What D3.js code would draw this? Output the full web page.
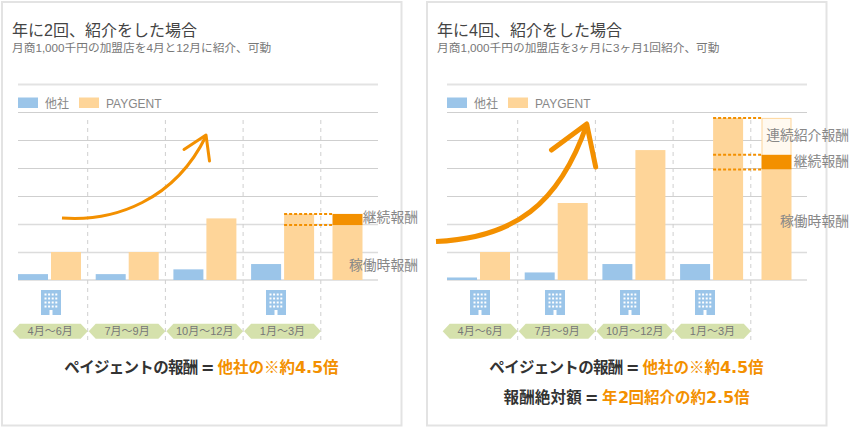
<!DOCTYPE html>
<html lang="ja">
<head>
<meta charset="utf-8">
<script src="https://cdn.jsdelivr.net/npm/d3@7/dist/d3.min.js"></script>
<style>
@font-face{font-family:"NoteNum";src:local("DejaVu Sans Bold");font-weight:700;unicode-range:U+2E,U+30-39,U+3D}
html,body{margin:0;padding:0;background:#fff}
svg{display:block}
text{font-family:"Liberation Sans","Noto Sans CJK JP",sans-serif}
text.note{font-family:"NoteNum","Noto Sans CJK JP",sans-serif}
</style>
</head>
<body>
<svg id="c" width="849" height="427"></svg>
<script>
const quarters = ["4月～6月", "7月～9月", "10月～12月", "1月～3月"];
const seriesNames = ["他社", "PAYGENT"];

const titleA = "年に2回、紹介をした場合";
const subtitleA = "月商1,000千円の加盟店を4月と12月に紹介、可動";
const otherA = [0.21, 0.21, 0.38, 0.57];
const paygentA = [1, 1, 2.2, 2.36];
const totalBaseA = 1.96;
const totalKeepA = 0.4;
const totalNewA = 0;
const buildingsA = ["4月～6月", "1月～3月"];
const notesA = [["ペイジェントの報酬", " = ", "他社の※約4.5倍"]];

const titleB = "年に4回、紹介をした場合";
const subtitleB = "月商1,000千円の加盟店を3ヶ月に3ヶ月1回紹介、可動";
const otherB = [0.09, 0.27, 0.57, 0.57];
const paygentB = [1, 2.75, 4.64, 5.79];
const totalBaseB = 3.95;
const totalKeepB = 0.52;
const totalNewB = 1.32;
const buildingsB = quarters;
const notesB = [["ペイジェントの報酬", " = ", "他社の※約4.5倍"], ["報酬絶対額", " = ", "年2回紹介の約2.5倍"]];

const BLUE = "#9bc5e9", PEACH = "#fed599", ORANGE = "#f39000", GREEN = "#d5e1ac";
const svg = d3.select("#c");

function panel(o) {
  const g = svg.append("g").attr("transform", `translate(${o.dx},0)`);
  g.append("rect").attr("x", 2 + o.shift).attr("y", 2).attr("width", 399.5).attr("height", 423.5)
    .attr("fill", "#fff").attr("stroke", "#e3e3e3").attr("stroke-width", 2);

  const y = d3.scaleLinear().domain([0, 7]).range([280, 84]);
  const band = d3.scaleBand().domain([...quarters, "total"]).range([10, 398.5]);
  const bw = 30;

  g.append("text").attr("x", 12 + o.shift).attr("y", 36).attr("font-size", 16).attr("fill", "#444").text(o.title);
  g.append("text").attr("x", 12 + o.shift).attr("y", 52).attr("font-size", 11.7).attr("fill", "#777").text(o.subtitle);

  // grid
  g.selectAll(".grid").data(d3.range(0, 8)).join("line")
    .attr("x1", 18).attr("x2", 378)
    .attr("y1", d => y(d) + (d === 0 ? 0 : 0.5)).attr("y2", d => y(d) + (d === 0 ? 0 : 0.5))
    .attr("stroke", d => (d === 7 || d === 0) ? "#e3e3e3" : d < 3 ? "#dcdcdc" : "#cfcfcf")
    .attr("stroke-width", d => (d === 7 || d === 0) ? 2 : d < 3 ? 1.4 : 1);

  // legend
  const lg = [[18, 45], [79, 106]];
  seriesNames.forEach((n, i) => {
    g.append("rect").attr("x", lg[i][0]).attr("y", 97.5).attr("width", 20).attr("height", 10.5)
      .attr("fill", i ? PEACH : BLUE);
    g.append("text").attr("x", lg[i][1]).attr("y", 107.5).attr("font-size", 12).attr("fill", "#888").text(n);
  });

  // vertical dashed separators
  g.selectAll(".sep").data(quarters).join("line")
    .attr("x1", d => band(d) + band.step() + o.sep).attr("x2", d => band(d) + band.step() + o.sep)
    .attr("y1", 120).attr("y2", 340)
    .attr("stroke", "#cfcfcf").attr("stroke-width", 1).attr("stroke-dasharray", "4 4");

  // bars
  g.selectAll(".other").data(quarters).join("rect")
    .attr("x", d => band(d) + 8).attr("width", bw)
    .attr("y", (d, i) => y(o.other[i])).attr("height", (d, i) => y(0) - y(o.other[i]))
    .attr("fill", BLUE);
  g.selectAll(".pay").data(quarters).join("rect")
    .attr("x", d => band(d) + 41).attr("width", bw)
    .attr("y", (d, i) => y(o.pay[i])).attr("height", (d, i) => y(0) - y(o.pay[i]))
    .attr("fill", PEACH);

  // total stacked bar
  const tx = band("total") + 11.7;
  const s1 = o.base, s2 = o.base + o.keep, s3 = s2 + o.fresh;
  g.append("rect").attr("x", tx).attr("width", bw).attr("y", y(s1)).attr("height", y(0) - y(s1)).attr("fill", PEACH);
  if (o.fresh > 0) {
    g.append("rect").attr("x", tx + 0.5).attr("width", bw - 1).attr("y", y(s3) + 0.5).attr("height", y(s2) - y(s3))
      .attr("fill", "#fff9f0").attr("stroke", PEACH).attr("stroke-width", 1);
  }
  g.append("rect").attr("x", tx).attr("width", bw).attr("y", y(s2)).attr("height", y(s1) - y(s2)).attr("fill", ORANGE);

  // dashed connectors
  const last = band(quarters[3]) + 41;
  const levels = o.fresh > 0 ? [s1, s2, s3] : [s1, s2];
  g.selectAll(".conn").data(levels).join("line")
    .attr("x1", last).attr("x2", tx)
    .attr("y1", d => y(d)).attr("y2", d => y(d))
    .attr("stroke", ORANGE).attr("stroke-width", 2).attr("stroke-dasharray", "3 2");

  // right-hand labels
  o.labels.forEach(([t, yy]) => {
    g.append("text").attr("x", o.labelX).attr("y", yy).attr("text-anchor", "end")
      .attr("font-size", 13.8).attr("fill", "#888").attr("dominant-baseline", "central").text(t);
  });

  // buildings
  const bx = d3.scalePoint().domain(quarters).range([51, 276]);
  o.buildings.forEach(q => {
    const b = g.append("g").attr("transform", `translate(${bx(q) - 10},290)`);
    b.append("rect").attr("width", 20).attr("height", 25).attr("fill", BLUE);
    d3.range(4).forEach(r => d3.range(4).forEach(c => {
      b.append("rect").attr("x", 3.5 + c * 3.6).attr("y", 3.5 + r * 4).attr("width", 2).attr("height", 2).attr("fill", "#fff");
    }));
    b.append("rect").attr("x", 8.5).attr("y", 20).attr("width", 3).attr("height", 5).attr("fill", "#fff");
  });

  // quarter hexagons
  quarters.forEach((q, i) => {
    const r = band(q) + band.step() + o.sep;
    const l = i === 0 ? r - 75 : band(q) + o.sep + 1;
    const t = 323.7, bt = 338.7, m = (t + bt) / 2, ins = 7;
    g.append("polygon")
      .attr("points", [[l, m], [l + ins, t], [r - ins, t], [r, m], [r - ins, bt], [l + ins, bt]].join(" "))
      .attr("fill", GREEN);
    g.append("text").attr("x", (l + r) / 2).attr("y", m).attr("text-anchor", "middle")
      .attr("dominant-baseline", "central").attr("font-size", 11).attr("fill", "#777").text(q);
  });

  // arrow
  g.append("path").attr("d", o.curve).attr("fill", "none").attr("stroke", ORANGE).attr("stroke-width", o.arrowW);
  g.append("path").attr("d", o.head).attr("fill", "none").attr("stroke", ORANGE)
    .attr("stroke-width", o.arrowW).attr("stroke-linecap", "round").attr("stroke-linejoin", "round");

  // notes
  o.notes.forEach((n, i) => {
    const t = g.append("text").attr("class", "note").attr("x", 201.5 + o.shift).attr("y", 373 + i * 30).attr("text-anchor", "middle")
      .attr("font-size", 15.5).attr("font-weight", 700).attr("xml:space", "preserve");
    t.append("tspan").attr("fill", "#333").attr("letter-spacing", i === 0 ? -0.7 : 0.2).text(n[0]);
    t.append("tspan").attr("fill", "#333").text(n[1]);
    t.append("tspan").attr("fill", ORANGE).text(n[2]);
  });
}

panel({dx: 0, sep: 0, shift: 0, title: titleA, subtitle: subtitleA, other: otherA, pay: paygentA,
  base: totalBaseA, keep: totalKeepA, fresh: totalNewA, buildings: buildingsA, notes: notesA,
  labels: [["継続報酬", 217], ["稼働時報酬", 265]], labelX: 418,
  curve: "M62,218 C115,222 175,200 206,136", head: "M184,149.5 L206,135 L209.5,161", arrowW: 3});

panel({dx: 429, sep: 1, shift: -4, title: titleB, subtitle: subtitleB, other: otherB, pay: paygentB,
  base: totalBaseB, keep: totalKeepB, fresh: totalNewB, buildings: buildingsB, notes: notesB,
  labels: [["連続紹介報酬", 135], ["継続報酬", 161], ["稼働時報酬", 221.5]], labelX: 420,
  curve: "M7,241.5 C85,238 130,205 158,124", head: "M122.5,150 L157.7,124 L166.7,167", arrowW: 5});
</script>
</body>
</html>
